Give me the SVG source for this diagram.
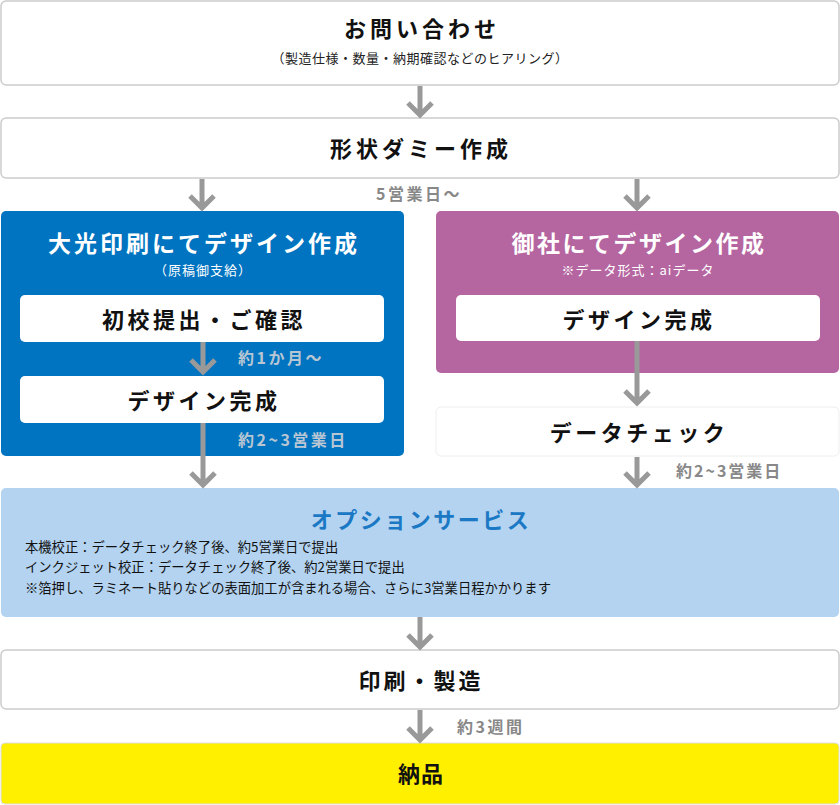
<svg xmlns="http://www.w3.org/2000/svg" width="840" height="805" viewBox="0 0 840 805">
<defs>
<style>
text{font-family:"Noto Sans CJK JP","Noto Sans",sans-serif;text-anchor:middle;dominant-baseline:central}
.box{fill:#fff;stroke:#ccc;stroke-width:1.5}
.t1{font-size:22px;font-weight:bold;fill:#111;letter-spacing:3px}
.t2{font-size:13px;fill:#222;letter-spacing:0.5px}
.wt{font-size:23px;font-weight:bold;fill:#fff;letter-spacing:3px}
.ws{font-size:13px;fill:#fff;letter-spacing:1px}
.inner{fill:#fff}
.it{font-size:22px;font-weight:bold;fill:#111;letter-spacing:3.5px}
.lbl{font-size:16px;font-weight:bold;fill:#888;text-anchor:start;letter-spacing:2.5px}
.lblb{font-size:16px;font-weight:bold;fill:#b8c6d4;text-anchor:start;letter-spacing:2.5px}
.ln{fill:none;stroke:#999;stroke-width:5}
.opt{font-size:13.3px;fill:#111;text-anchor:start}
</style>
</defs>
<g id="n-inquiry">
<rect class="box" x="1" y="1" width="838" height="84" rx="5"/>
<text class="t1" x="422" y="27" style="letter-spacing:4px">お問い合わせ</text>
<text class="t2" x="420" y="57">（製造仕様・数量・納期確認などのヒアリング）</text>
</g>
<g id="n-dummy">
<rect class="box" x="1" y="118" width="838" height="60" rx="5"/>
<text class="t1" x="421" y="147" style="letter-spacing:4px">形状ダミー作成</text>
</g>
<g id="n-daiko">
<rect x="1" y="211" width="403" height="245" rx="5" fill="#0074c0"/>
<text class="wt" x="204" y="242">大光印刷にてデザイン作成</text>
<text class="ws" x="203" y="269">（原稿御支給）</text>
</g>
<g id="n-first">
<rect class="inner" x="20" y="295" width="364" height="47" rx="5"/>
<text class="it" x="204" y="318">初校提出・ご確認</text>
</g>
<g id="n-design-l">
<rect class="inner" x="20" y="376" width="364" height="47" rx="5"/>
<text class="it" x="204" y="399">デザイン完成</text>
</g>
<g id="n-client">
<rect x="436" y="211" width="403" height="162" rx="5" fill="#b565a0"/>
<text class="wt" x="639" y="242" style="letter-spacing:2.5px">御社にてデザイン作成</text>
<text class="ws" x="638" y="269">※データ形式：aiデータ</text>
</g>
<g id="n-design-r">
<rect class="inner" x="456" y="295" width="364" height="46" rx="5"/>
<text class="it" x="639" y="318">デザイン完成</text>
</g>
<g id="n-check">
<rect x="436" y="407" width="403" height="49" rx="5" fill="#fff" stroke="#eee" stroke-width="1"/>
<text class="it" x="639" y="431">データチェック</text>
</g>
<g id="n-option">
<rect x="1" y="488" width="838" height="129" rx="5" fill="#b3d3f0"/>
<text x="421" y="518" style="font-size:22px;font-weight:bold;fill:#1a78c4;letter-spacing:2.5px">オプションサービス</text>
<text class="opt" x="25" y="546">本機校正：データチェック終了後、約5営業日で提出</text>
<text class="opt" x="25" y="566">インクジェット校正：データチェック終了後、約2営業日で提出</text>
<text class="opt" x="25" y="587">※箔押し、ラミネート貼りなどの表面加工が含まれる場合、さらに3営業日程かかります</text>
</g>
<g id="n-print">
<rect class="box" x="1" y="650" width="838" height="59" rx="5"/>
<text class="t1" x="421" y="679">印刷・製造</text>
</g>
<g id="n-deliver">
<rect x="1" y="743" width="838" height="61" rx="4" fill="#fff000" stroke="#ddd" stroke-width="1"/>
<text class="t1" x="421" y="772" style="letter-spacing:1px">納品</text>
</g>
<g id="connectors">
<path class="ln" d="M420 86V116M408 103L420 115L432 103"/>
<path class="ln" d="M202 179V209M190 196L202 208L214 196"/>
<path class="ln" d="M637 179V209M625 196L637 208L649 196"/>
<path class="ln" d="M203 342V373M191 360L203 372L215 360"/>
<path class="ln" d="M203 423V486M191 473L203 485L215 473"/>
<path class="ln" d="M637 341V404M625 391L637 403L649 391"/>
<path class="ln" d="M637 457V486M625 473L637 485L649 473"/>
<path class="ln" d="M420 617V648M408 635L420 647L432 635"/>
<path class="ln" d="M420 710V741M408 728L420 740L432 728"/>
<text class="lbl" x="376" y="193">5営業日〜</text>
<text class="lblb" x="238" y="357">約1か月〜</text>
<text class="lblb" x="238" y="439">約2~3営業日</text>
<text class="lbl" x="676" y="470" style="letter-spacing:2px">約2~3営業日</text>
<text class="lbl" x="457" y="726">約3週間</text>
</g>
</svg>
